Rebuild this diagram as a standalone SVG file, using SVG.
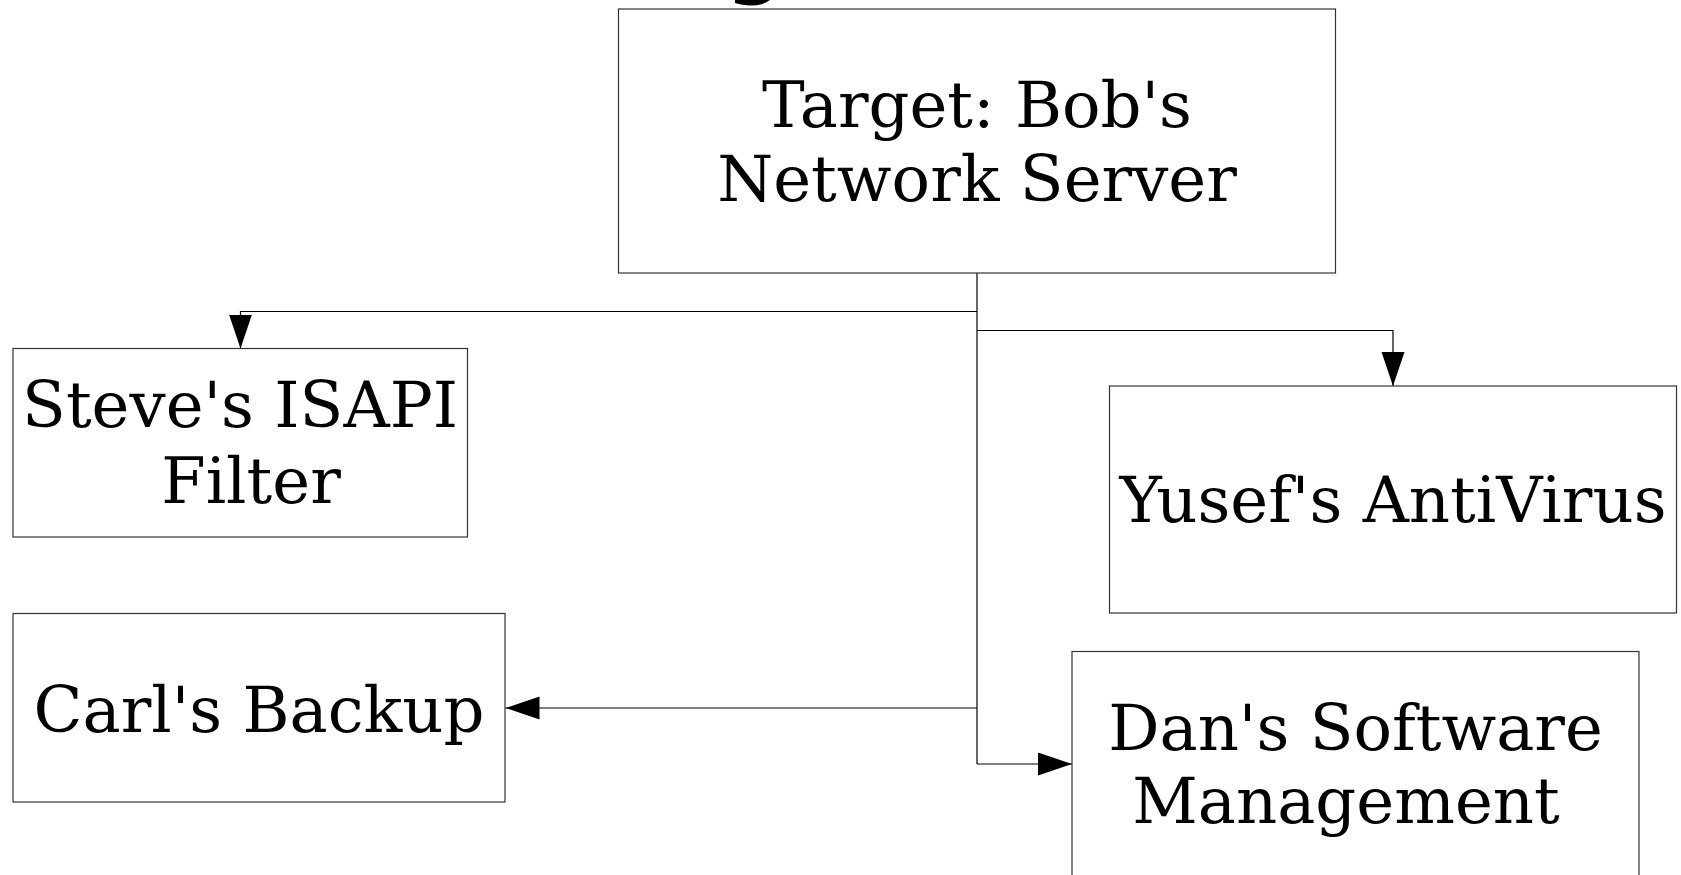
<svg xmlns="http://www.w3.org/2000/svg" width="1681" height="875" viewBox="0 0 1681 875">
  <style>
    .box { fill: #ffffff; stroke: #333333; stroke-width: 1.2; }
    .lbl { font-family: "DejaVu Serif", "Liberation Serif", serif; font-size: 64px; fill: #000000; text-anchor: middle; }
    .wire { fill: none; stroke: #000000; stroke-width: 1.2; }
    .heading { font-family: "DejaVu Sans", "Liberation Sans", sans-serif; font-weight: bold; font-size: 80px; fill: #000000; }
  </style>
  <defs>
    <marker id="arrow" markerUnits="userSpaceOnUse" markerWidth="36" markerHeight="24" refX="34" refY="11.5" orient="auto">
      <path d="M0,0 L34,11.5 L0,23 Z" fill="#000000"/>
    </marker>
  </defs>

  <rect width="1681" height="875" fill="#ffffff"/>

  <!-- heading running off the top edge -->
  <text class="heading" x="726" y="-12">g</text>

  <!-- connectors -->
  <g id="connectors">
    <path class="wire" d="M977,273 V764"/>
    <path class="wire" d="M977,311.5 H240.5 V348.5" marker-end="url(#arrow)"/>
    <path class="wire" d="M977,330.5 H1393 V386" marker-end="url(#arrow)"/>
    <path class="wire" d="M977,708 H505.5" marker-end="url(#arrow)"/>
    <path class="wire" d="M977,764 H1072" marker-end="url(#arrow)"/>
  </g>

  <g id="node-target">
    <rect class="box" x="618.5" y="9" width="717" height="264"/>
    <text class="lbl" x="977" y="126.5">Target: Bob's</text>
    <text class="lbl" x="977" y="200.5">Network Server</text>
  </g>

  <g id="node-steve">
    <rect class="box" x="13" y="348.5" width="454.5" height="188.5"/>
    <text class="lbl" x="240" y="427">Steve's ISAPI</text>
    <text class="lbl" x="251" y="502.5">Filter</text>
  </g>

  <g id="node-yusef">
    <rect class="box" x="1109.5" y="386" width="567" height="227"/>
    <text class="lbl" x="1393" y="521.5">Yusef's AntiVirus</text>
  </g>

  <g id="node-carl">
    <rect class="box" x="13" y="613.5" width="492" height="188.5"/>
    <text class="lbl" x="259" y="731.5">Carl's Backup</text>
  </g>

  <g id="node-dan">
    <rect class="box" x="1072" y="651.5" width="567" height="240"/>
    <text class="lbl" x="1355.5" y="750">Dan's Software</text>
    <text class="lbl" x="1346" y="823">Management</text>
  </g>
</svg>
